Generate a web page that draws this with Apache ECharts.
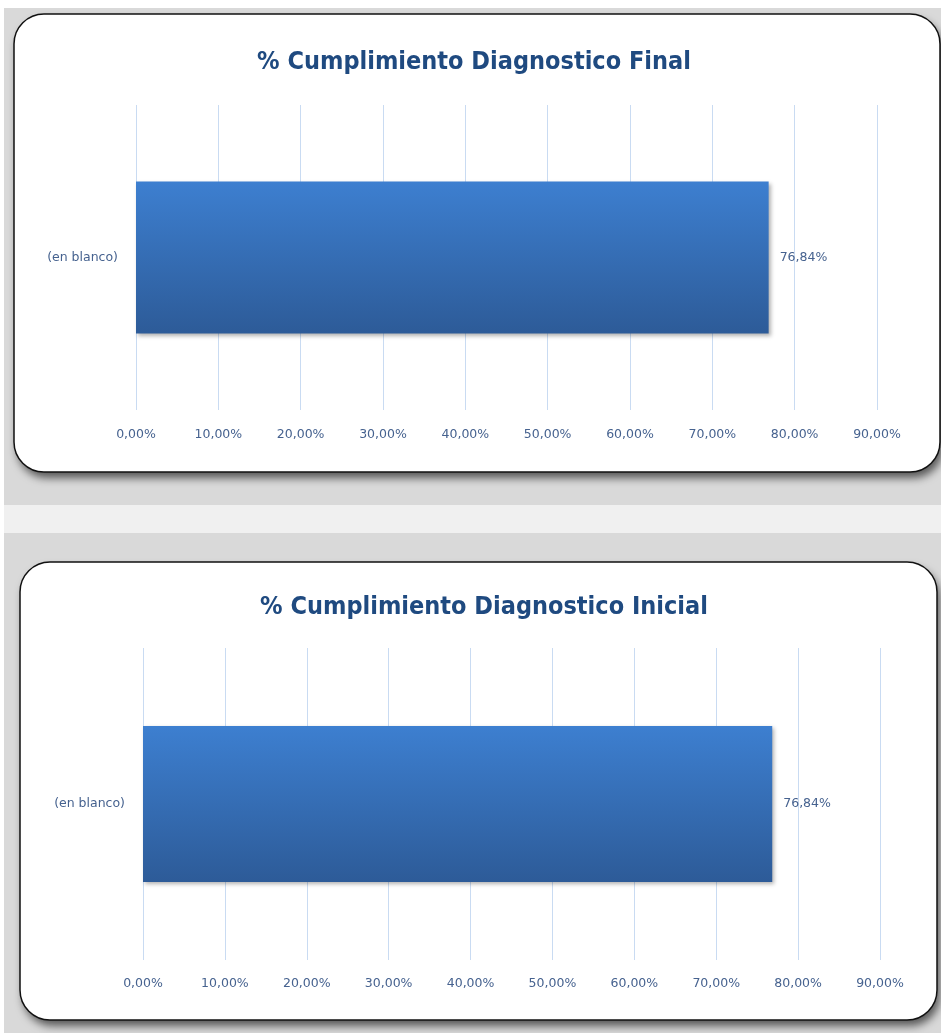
<!DOCTYPE html>
<html>
<head>
<meta charset="utf-8">
<script src="https://cdn.jsdelivr.net/npm/echarts@6/dist/echarts.min.js"></script>
<style>
html,body{margin:0;padding:0;background:#fff;}
#c{width:941px;height:1033px;}
</style>
</head>
<body>
<div id="c"></div>
<script>
// ---- data ----
const categories = ['(en blanco)'];
const finalValues = [76.84];
const initialValues = [76.84];
const titles = ['% Cumplimiento Diagnostico Final', '% Cumplimiento Diagnostico Inicial'];
const axisMin = 0, axisMax = 90, axisStep = 10;

const fmt = v => v.toFixed(2).replace('.', ',') + '%';
const labelColor = '#46628f';
const gridColor = '#c9dbf2';
const titleColor = '#1f4a80';
const smallFont = 'DejaVu Sans';

const chart = echarts.init(document.getElementById('c'));

function panel(x, y, w, h) {
  return [
    { type: 'rect', z: -11,
      shape: { x: x, y: y, width: w, height: h, r: 30 },
      style: { fill: '#fff', shadowBlur: 8, shadowOffsetX: 3, shadowOffsetY: 6, shadowColor: 'rgba(0,0,0,0.6)' } },
    { type: 'rect', z: -10,
      shape: { x: x, y: y, width: w, height: h, r: 30 },
      style: { fill: '#fff', stroke: '#111', lineWidth: 1.5 } }
  ];
}

const barGradient = new echarts.graphic.LinearGradient(0, 0, 0, 1, [
  { offset: 0, color: '#3d7fd0' },
  { offset: 1, color: '#2d5b98' }
]);

function xAxis(gi, m) {
  return {
    type: 'value', gridIndex: gi, min: axisMin, max: axisMax, interval: axisStep,
    axisLine: { show: false }, axisTick: { show: false },
    splitLine: { show: true, lineStyle: { color: gridColor, width: 1 } },
    axisLabel: { formatter: v => fmt(v), color: labelColor, fontSize: 12.5,
      fontFamily: smallFont, margin: m }
  };
}
function yAxis(gi) {
  return {
    type: 'category', gridIndex: gi, data: categories,
    axisLine: { show: false }, axisTick: { show: false },
    axisLabel: { color: labelColor, fontSize: 12.5, fontFamily: smallFont, margin: 18 }
  };
}
function series(gi, data, bw) {
  return {
    type: 'bar', xAxisIndex: gi, yAxisIndex: gi, data: data, barWidth: bw,
    itemStyle: { color: barGradient, shadowBlur: 4, shadowOffsetX: 2, shadowOffsetY: 2,
      shadowColor: 'rgba(0,0,0,0.3)' },
    label: { show: true, position: 'right', distance: 11, formatter: p => fmt(p.value),
      color: labelColor, fontSize: 12.5, fontFamily: smallFont }
  };
}

chart.setOption({
  animation: false,
  graphic: [
    { type: 'rect', z: -20, shape: { x: 4, y: 8, width: 937, height: 1025 }, style: { fill: '#d9d9d9' } },
    { type: 'rect', z: -19, shape: { x: 4, y: 505, width: 937, height: 28 }, style: { fill: '#f0f0f0' } },
    ...panel(14, 14, 926, 458),
    ...panel(20, 562, 917, 458),
    { type: 'text', z: 100, style: { x: 474, y: 62, text: titles[0], textAlign: 'center', textVerticalAlign: 'middle',
      fill: titleColor, font: 'bold 25px "DejaVu Sans Condensed"' } },
    { type: 'text', z: 100, style: { x: 484, y: 607, text: titles[1], textAlign: 'center', textVerticalAlign: 'middle',
      fill: titleColor, font: 'bold 25px "DejaVu Sans Condensed"' } }
  ],
  grid: [
    { left: 136, width: 741, top: 105, height: 305 },
    { left: 143, width: 737, top: 648, height: 312 }
  ],
  xAxis: [xAxis(0, 18), xAxis(1, 17)],
  yAxis: [yAxis(0), yAxis(1)],
  series: [series(0, finalValues, 152), series(1, initialValues, 156)]
});
</script>
</body>
</html>
